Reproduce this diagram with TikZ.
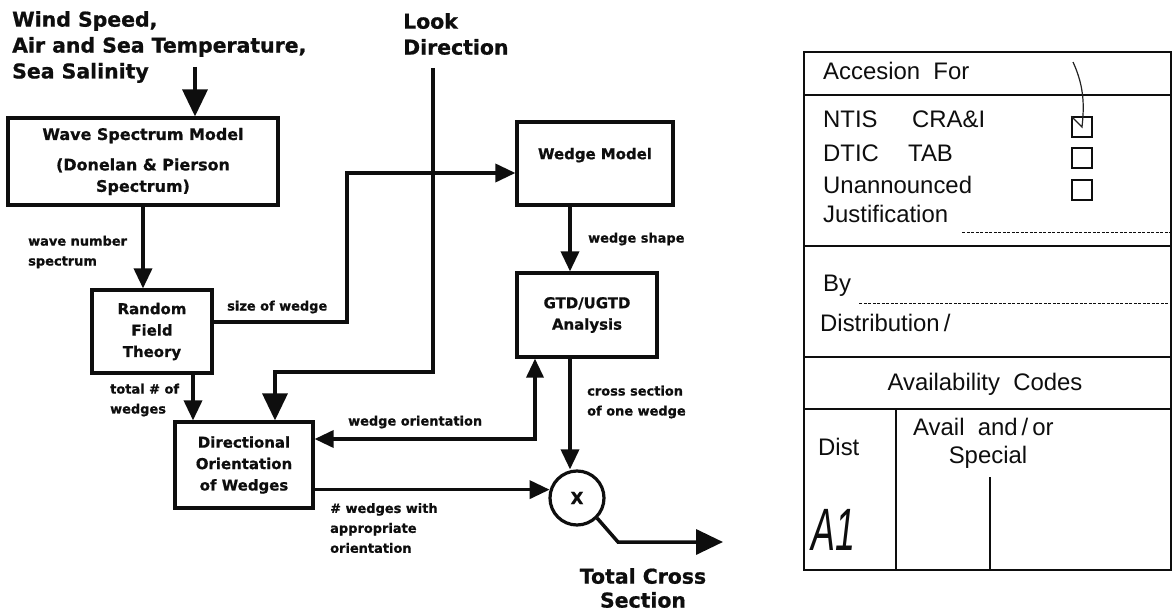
\documentclass[tikz,border=0pt]{standalone}
\usepackage{fontspec}
\usepackage{xcolor}
\definecolor{ink}{RGB}{14,14,14}
\definecolor{pencil}{RGB}{35,35,35}
\newfontfamily\diagfont{DejaVu Sans}[BoldFeatures={FakeBold=0.8}]
\newfontfamily\formfont{Liberation Sans}
\usepackage{tikz}
\usetikzlibrary{arrows.meta, positioning}
\tikzset{
  block/.style={rectangle, draw=ink, line width=3.2bp, fill=white, text=ink,
    font=\diagfont\bfseries\fontsize{15}{21.5}\selectfont, align=center, inner sep=0pt},
  arrow/.style={-{Triangle[length=20bp,width=18bp]}, line width=3.5bp, color=ink},
  bigarrow/.style={-{Triangle[length=27bp,width=25bp]}, line width=3.5bp, color=ink},
  twoway/.style={{Triangle[length=19bp,width=17bp]}-{Triangle[length=19bp,width=17bp]}, line width=3.5bp, color=ink},
  tag/.style={font=\diagfont\bfseries\fontsize{13}{20}\selectfont, text=ink,
    align=left, anchor=west, inner sep=0pt},
  heading/.style={font=\diagfont\bfseries\fontsize{20.5}{26}\selectfont, text=ink,
    align=left, inner sep=0pt},
  formtext/.style={font=\formfont\fontsize{24}{28}\selectfont, text=ink, anchor=base west, inner sep=0pt},
  formline/.style={line width=1.6bp, color=ink},
  dotline/.style={line width=0.9bp, color=ink, dash pattern=on 3bp off 1.5bp},
  checkbox/.style={rectangle, draw=ink, line width=1.5bp, minimum size=20bp, inner sep=0pt},
  penline/.style={line width=1.2bp, color=pencil},
}

\begin{document}
\begin{tikzpicture}[x=1bp, y=-1bp]
  \fill[white] (0,0) rectangle (1175,612);
  \useasboundingbox (0,0) rectangle (1175,612);
  \node[heading, anchor=west] (inputs) at (12,47) {Wind Speed,\\Air and Sea Temperature,\\Sea Salinity};
  \node[heading, anchor=west] (look) at (403,34) {Look\\Direction};
  \node[block, minimum width=270bp, minimum height=87bp, font=\diagfont\bfseries\fontsize{16}{21.5}\selectfont] (wave) at (143,161.5) {Wave Spectrum Model\\[9bp](Donelan \& Pierson\\Spectrum)};
  \node[block, minimum width=120bp, minimum height=83bp] (random) at (152,331.5) {Random\\Field\\Theory};
  \node[block, minimum width=156bp, minimum height=83bp, text depth=20bp] (wedge) at (595,163.5) {Wedge Model};
  \node[block, minimum width=140bp, minimum height=84bp] (gtd) at (587,315) {GTD/UGTD\\Analysis};
  \node[block, minimum width=138bp, minimum height=86bp] (dir) at (244,465) {Directional\\Orientation\\of Wedges};
  \node[block, circle, minimum size=54bp, font=\diagfont\bfseries\fontsize{17}{17}\selectfont] (mul) at (577,498) {X};
  \node[heading, align=center, font=\diagfont\bfseries\fontsize{20.5}{24}\selectfont] (total) at (643,588) {Total Cross\\Section};
  \coordinate (inEnd) at (195,67);
  \coordinate (sizeBend) at (347,173);
  \coordinate (lookTop) at (433,68);
  \coordinate (lookBend) at (275,372);
  \coordinate (orBend) at (535,439);
  \coordinate (outBend) at (618,542);
  \coordinate (outEnd) at (723,542);
  \draw[bigarrow] (inEnd) -- (inEnd |- wave.north);
  \draw[arrow] (wave.south) -- (wave.south |- random.north);
  \draw[arrow] ([yshift=9.5bp]random.east) -| (sizeBend) -- (sizeBend -| wedge.west);
  \draw[bigarrow] (lookTop) |- (lookBend) -- (lookBend |- dir.north);
  \draw[arrow] ([xshift=41bp]random.south) -- ([xshift=41bp]random.south |- dir.north);
  \draw[arrow] ([xshift=-25bp]wedge.south) -- ([xshift=-25bp]wedge.south |- gtd.north);
  \draw[twoway] (orBend -| dir.east) -- (orBend) -- (orBend |- gtd.south);
  \draw[arrow] ([xshift=-17bp]gtd.south) -- ([xshift=-17bp]gtd.south |- mul.north);
  \draw[arrow] (dir.east |- mul.163) -- (mul.163);
  \draw[bigarrow] (mul.-45) -- (outBend) -- (outEnd);
  \node[tag] (wavenum) at (28,252) {wave number\\spectrum};
  \node[tag] (sizew) at (227,307) {size of wedge};
  \node[tag] (totalw) at (110,400) {total \# of\\wedges};
  \node[tag] (shape) at (588,239) {wedge shape};
  \node[tag] (crosss) at (587,402) {cross section\\of one wedge};
  \node[tag] (orient) at (348,422) {wedge orientation};
  \node[tag] (nwedge) at (330,528) {\# wedges with\\appropriate\\orientation};
  \draw[formline] (804,52) rectangle (1171,570);
  \draw[formline] (804,95) -- (1171,95);
  \draw[formline] (804,246) -- (1171,246);
  \draw[formline] (804,357) -- (1171,357);
  \draw[formline] (804,409) -- (1171,409);
  \draw[formline] (896,409) -- (896,570);
  \draw[formline] (990,477) -- (990,570);
  \node[formtext] (acc) at (823,80) {Accesion\ \ For};
  \node[formtext] (ntis) at (823,128) {NTIS};
  \node[formtext] (cra) at (912,128) {CRA\&I};
  \node[formtext] (dtic) at (823,162) {DTIC};
  \node[formtext] (tab) at (908,162) {TAB};
  \node[formtext] (unann) at (823,194) {Unannounced};
  \node[formtext] (just) at (823,223) {Justification};
  \node[formtext] (by) at (823,292) {By};
  \node[formtext] (distr) at (820,332) {Distribution\,/};
  \node[formtext, anchor=base] (avail) at (985,390) {Availability\ \ Codes};
  \node[formtext] (dist) at (818,455) {Dist};
  \node[formtext] (availor) at (913,435) {Avail\ \ and\,/\,or};
  \node[formtext, anchor=base] (special) at (988,463) {Special};
  \node[formtext, font=\formfont\itshape\fontsize{60}{60}\selectfont, xscale=0.6] (aone) at (811,550) {A1};
  \draw[dotline] (just.base east) ++(14,9) -- (1170,232);
  \draw[dotline] (by.base east) ++(8,11) -- (1170,303);
  \foreach \y/\n in {127/1, 158/2, 190/3}
    \node[checkbox] (cb\n) at (1082,\y) {};
  \draw[penline] (1073,62) .. controls (1085,88) and (1084,108) .. (cb1.center) -- (cb1.north west);
\end{tikzpicture}
\end{document}
